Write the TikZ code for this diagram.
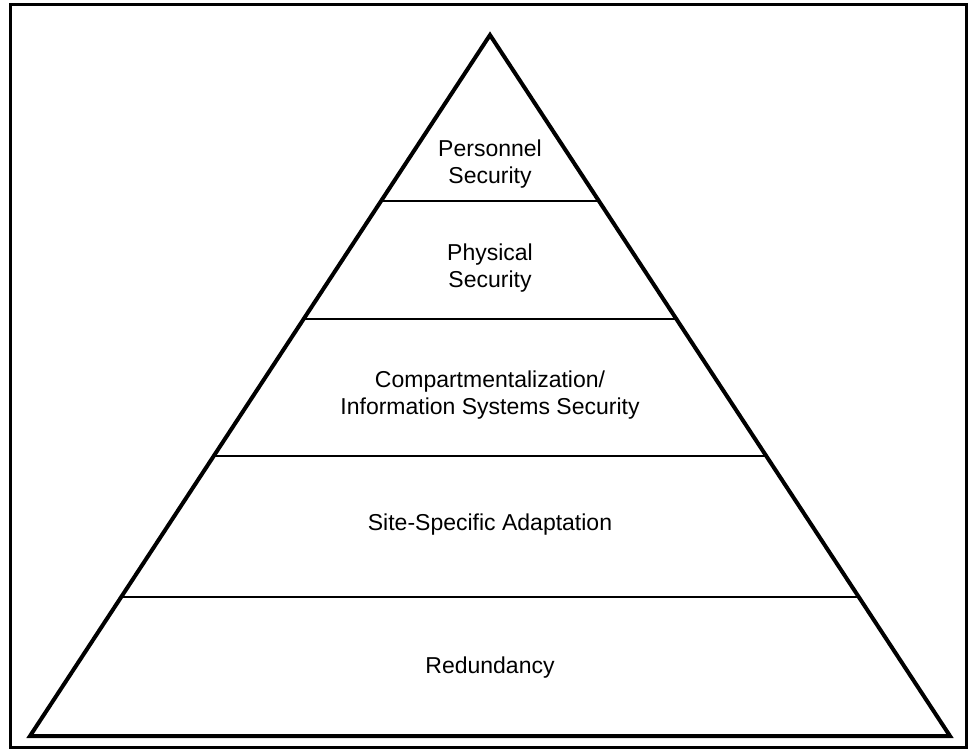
\documentclass[tikz,border=0pt]{standalone}
\usepackage{fontspec}
\setmainfont{Liberation Sans}
\begin{document}
\begin{tikzpicture}[x=1pt,y=-1pt,
  lbl/.style={align=center,font=\fontsize{23}{27}\selectfont,inner sep=0pt,anchor=base},
  edge/.style={line width=4pt,line join=miter},
  divider/.style={line width=2.5pt},
  frame/.style={line width=3pt}]
\useasboundingbox (0,0) rectangle (975,752);
\draw[frame] (10,5) rectangle (966,747);
\coordinate (top) at (490,35);
\coordinate (bl) at (30,736);
\coordinate (br) at (950,736);
\draw[edge] (top) -- (bl) -- (br) -- cycle;
\coordinate (al) at (381.1,201); \coordinate (ar) at (598.9,201);
\coordinate (bl2) at (303.6,319); \coordinate (br2) at (676.4,319);
\coordinate (cl) at (213.7,456); \coordinate (cr) at (766.3,456);
\coordinate (dl) at (121.2,597); \coordinate (dr) at (858.8,597);
\draw[divider] (al) -- (ar);
\draw[divider] (bl2) -- (br2);
\draw[divider] (cl) -- (cr);
\draw[divider] (dl) -- (dr);
\node[lbl] (t1) at (490,183) {Personnel\\Security};
\node[lbl] (t2) at (490,287) {Physical\\Security};
\node[lbl] (t3) at (490,414) {Compartmentalization/\\Information Systems Security};
\node[lbl] (t4) at (490,530) {Site-Specific Adaptation};
\node[lbl] (t5) at (490,673) {Redundancy};
\end{tikzpicture}
\end{document}
